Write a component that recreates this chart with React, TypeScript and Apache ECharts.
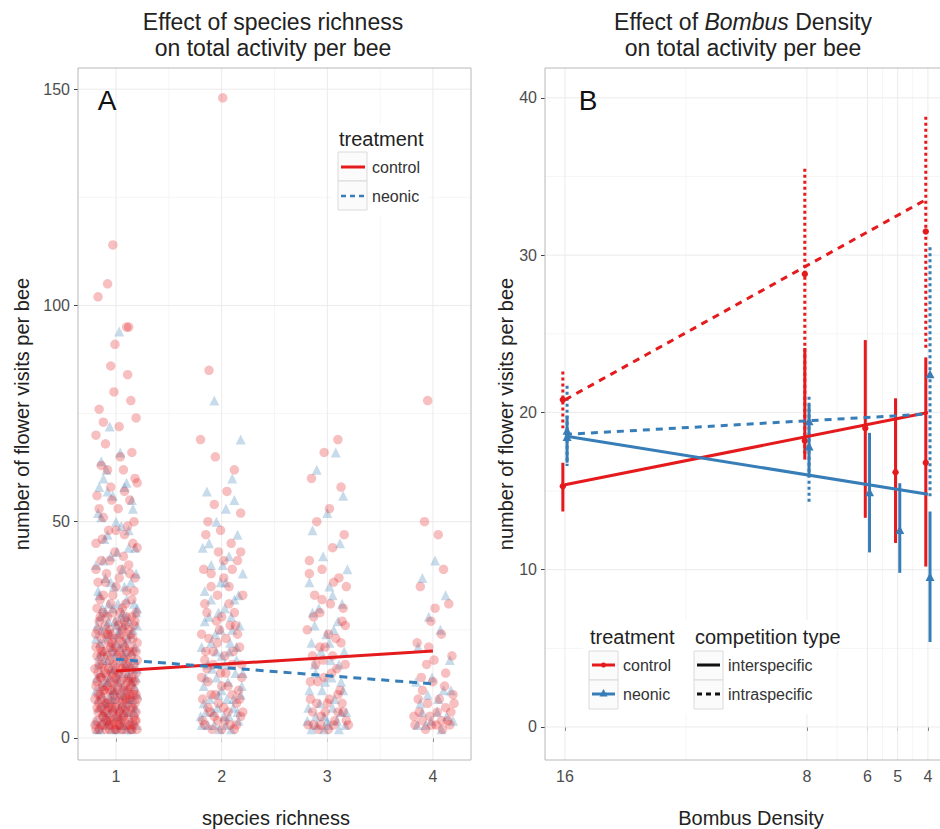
import { useEffect, useRef } from "react";
import * as echarts from "echarts";

// ---------- Panel A: observations (jittered species richness, flower visits per bee) ----------
const controlRich1: number[][] = [
  [0.97, 114], [0.92, 105], [0.83, 102], [1.1, 95], [1.12, 95], [0.99, 91], [1.11, 84], [0.98, 80],
  [0.84, 76], [1.19, 74], [0.81, 70], [1.03, 72], [0.9, 68], [1.15, 66], [0.86, 63], [1.07, 62],
  [1.18, 60], [0.95, 58], [0.82, 56], [1.13, 55], [1.02, 53], [0.88, 51], [1.17, 50], [0.93, 48],
  [1.08, 47], [0.81, 45], [1.2, 44], [0.99, 43], [0.86, 41], [1.12, 40], [1.05, 39], [0.91, 38],
  [1.18, 37], [0.83, 36], [1.0, 35], [1.1, 34], [0.88, 33], [1.15, 32], [0.95, 31], [0.82, 30],
  [1.06, 30], [1.19, 29],
  [0.85, 32], [0.97, 33], [1.09, 31], [1.17, 34], [0.9, 36], [1.03, 37], [1.13, 38], [0.81, 39],
  [0.94, 41], [1.07, 42], [1.16, 45], [0.87, 46], [1.0, 48], [1.11, 49], [0.84, 53], [0.96, 55],
  [1.08, 57], [1.2, 59], [0.92, 62], [1.04, 65], [0.88, 73], [1.14, 78], [0.95, 86],
  [0.81, 2], [0.86, 3], [0.9, 2], [0.95, 4], [0.99, 2], [1.03, 3], [1.08, 2], [1.12, 5], [1.16, 3], [1.2, 2],
  [0.83, 6], [0.88, 5], [0.93, 7], [0.97, 6], [1.01, 5], [1.06, 8], [1.1, 6], [1.14, 7], [1.18, 4], [0.8, 9],
  [0.85, 10], [0.92, 9], [0.96, 11], [1.0, 8], [1.04, 10], [1.09, 12], [1.13, 9], [1.17, 11], [0.82, 13], [0.87, 12],
  [0.91, 14], [0.98, 13], [1.02, 15], [1.07, 14], [1.11, 13], [1.15, 16], [1.19, 15], [0.84, 17], [0.89, 16], [0.94, 18],
  [1.0, 17], [1.05, 19], [1.12, 18], [1.16, 20], [0.81, 21], [0.86, 19], [0.93, 22], [0.97, 20], [1.03, 23], [1.08, 21],
  [1.14, 24], [1.2, 22], [0.83, 25], [0.9, 26], [0.95, 24], [1.01, 27], [1.06, 25], [1.1, 28], [1.17, 26], [0.85, 28],
  [0.88, 3], [0.94, 2], [1.05, 4], [1.15, 2], [0.82, 4], [0.99, 7], [1.07, 5], [1.13, 3], [0.91, 6], [1.18, 8],
  [0.84, 8], [1.02, 11], [0.96, 15], [1.09, 17], [0.87, 20], [1.16, 13], [0.92, 24], [1.04, 6], [1.19, 10], [0.8, 16],
  [0.86, 7], [0.93, 4], [1.01, 3], [1.11, 9], [0.98, 10], [1.06, 16], [0.89, 11], [1.14, 12], [0.95, 21], [1.1, 23],
  [0.8, 3], [0.84, 2], [0.87, 5], [0.91, 4], [0.94, 3], [0.97, 5], [1.0, 2], [1.02, 4], [1.05, 2], [1.08, 4],
  [1.11, 3], [1.14, 2], [1.17, 5], [1.19, 4], [0.82, 7], [0.86, 9], [0.89, 6], [0.92, 8], [0.96, 7], [0.99, 9],
  [1.03, 6], [1.06, 9], [1.09, 7], [1.13, 10], [1.16, 7], [1.2, 9], [0.81, 12], [0.85, 14], [0.88, 11], [0.92, 12],
  [0.95, 13], [0.98, 15], [1.01, 12], [1.04, 13], [1.08, 11], [1.11, 11], [1.15, 14], [1.18, 13], [0.83, 15], [0.87, 17],
  [0.9, 15], [0.93, 16], [0.97, 17], [1.0, 14], [1.04, 16], [1.07, 18], [1.1, 16], [1.14, 19], [1.17, 17], [1.2, 18],
  [0.82, 19], [0.85, 21], [0.89, 20], [0.92, 19], [0.96, 22], [1.0, 21], [1.03, 20], [1.06, 22], [1.1, 20], [1.13, 21],
  [1.16, 23], [1.19, 20], [0.81, 24], [0.86, 23], [0.9, 24], [0.94, 25], [0.98, 23], [1.02, 26], [1.05, 24], [1.09, 26],
  [1.12, 25], [1.18, 27], [0.84, 27], [0.88, 29], [0.92, 28], [0.97, 29], [1.04, 29], [1.08, 27], [1.15, 28], [0.83, 10],
  [0.9, 8], [0.97, 3], [1.06, 7], [1.12, 14], [1.19, 6], [0.86, 14], [0.94, 11], [1.01, 19], [1.09, 9], [1.16, 10],
];
const controlRich2: number[][] = [
  [2.01, 148], [1.88, 85], [1.8, 69], [2.12, 62], [2.05, 57], [1.93, 54], [2.18, 52], [1.85, 47], [2.09, 45],
  [1.97, 43], [2.15, 41], [1.83, 39], [2.02, 37], [1.9, 35], [2.2, 33], [2.07, 31], [1.86, 29], [1.95, 27],
  [2.13, 26], [1.81, 24], [2.04, 23], [2.17, 21], [1.92, 20], [1.84, 18], [2.1, 17], [1.99, 15], [2.19, 14],
  [1.87, 13], [2.06, 12], [1.94, 10], [1.82, 9], [2.14, 8], [2.02, 7], [1.89, 6], [2.18, 5], [1.96, 4],
  [2.08, 3], [1.84, 3], [2.0, 2], [1.91, 2], [2.12, 2], [2.16, 11], [1.86, 16], [2.03, 19], [1.98, 25],
  [1.82, 4], [1.87, 7], [1.9, 10], [1.93, 5], [1.97, 8], [2.0, 12], [2.03, 4], [2.06, 6], [2.1, 10], [2.14, 3],
  [2.17, 9], [2.2, 6], [1.81, 14], [1.85, 20], [1.88, 23], [1.92, 17], [1.96, 22], [2.0, 28], [2.04, 15], [2.08, 26],
  [2.11, 20], [2.15, 24], [2.19, 17], [1.84, 31], [1.9, 38], [1.96, 33], [2.02, 41], [2.07, 35], [2.12, 29], [2.18, 43],
  [1.87, 50], [1.99, 48], [2.1, 39], [1.94, 65],
];
const controlRich3: number[][] = [
  [3.1, 69], [2.97, 66], [2.85, 60], [3.13, 58], [3.02, 53], [2.9, 50], [3.16, 47], [3.05, 44], [2.83, 41],
  [2.95, 39], [3.11, 37], [3.18, 35], [2.88, 33], [3.03, 31], [2.93, 29], [3.14, 27], [2.81, 25], [3.08, 23],
  [2.98, 21], [2.86, 19], [3.17, 17], [3.04, 15], [2.91, 13], [3.12, 11], [2.84, 9], [3.0, 8], [3.15, 6],
  [2.94, 5], [3.07, 4], [2.87, 3], [3.2, 3], [3.01, 2], [2.92, 2], [3.1, 10], [2.96, 18],
  [2.82, 3], [2.86, 6], [2.9, 8], [2.94, 3], [2.98, 6], [3.02, 9], [3.06, 3], [3.1, 6], [3.14, 8], [3.18, 4],
  [2.84, 13], [2.89, 17], [2.93, 21], [2.97, 14], [3.01, 24], [3.05, 19], [3.09, 16], [3.13, 22], [3.17, 26],
  [2.87, 28], [2.95, 32], [3.06, 36], [3.15, 30], [2.83, 38],
];
const controlRich4: number[][] = [
  [3.95, 78], [3.92, 50], [4.05, 47], [4.1, 39], [3.88, 35], [4.15, 31], [4.02, 30], [3.98, 27], [4.08, 24],
  [3.85, 22], [4.18, 19], [3.94, 17], [4.12, 15], [4.0, 13], [3.9, 11], [4.06, 9], [4.2, 8], [3.87, 6],
  [3.97, 5], [4.14, 4], [4.03, 3], [3.83, 3], [4.09, 2], [3.93, 2], [4.17, 6],
  [3.82, 5], [3.86, 9], [3.9, 4], [3.95, 8], [3.99, 3], [4.04, 6], [4.08, 4], [4.12, 7], [4.16, 3], [4.19, 10],
  [3.89, 14], [4.01, 18], [4.11, 12], [3.96, 21],
];

const neonicRich1: number[][] = [
  [1.03, 94], [0.94, 72], [0.86, 64], [0.88, 60], [1.08, 58], [0.92, 57], [1.15, 55], [0.83, 52], [1.0, 50],
  [1.12, 48], [0.89, 46], [1.18, 44], [0.95, 42], [0.81, 40], [1.06, 39], [0.9, 37], [1.14, 36], [0.98, 35],
  [0.84, 33], [1.1, 32], [0.93, 31], [1.2, 30], [1.02, 31], [0.87, 30],
  [0.83, 34], [0.95, 36], [1.08, 35], [1.19, 38], [0.88, 41], [1.01, 43], [1.12, 44], [0.92, 47], [1.05, 49],
  [0.86, 51], [1.16, 53], [0.97, 56], [1.1, 59], [0.91, 62], [1.04, 66], [0.84, 58],
  [0.82, 2], [0.87, 4], [0.91, 3], [0.96, 2], [1.0, 5], [1.05, 3], [1.1, 2], [1.14, 4], [1.19, 3], [0.84, 7],
  [0.89, 8], [0.94, 6], [0.98, 9], [1.03, 7], [1.07, 10], [1.12, 8], [1.17, 6], [0.81, 11], [0.86, 12], [0.92, 13],
  [0.97, 11], [1.01, 14], [1.06, 12], [1.11, 15], [1.15, 13], [1.2, 16], [0.83, 17], [0.88, 18], [0.95, 16], [0.99, 19],
  [1.04, 18], [1.09, 20], [1.13, 17], [1.18, 21], [0.85, 22], [0.9, 23], [0.96, 21], [1.02, 24], [1.08, 22], [1.16, 25],
  [0.82, 26], [0.93, 27], [1.0, 26], [1.05, 28], [1.12, 27], [1.19, 29], [0.9, 5], [1.08, 6], [0.95, 10], [1.16, 9],
  [0.81, 4], [0.85, 2], [0.88, 6], [0.93, 4], [0.97, 7], [1.01, 2], [1.04, 5], [1.07, 3], [1.11, 6], [1.15, 2],
  [1.18, 7], [0.83, 9], [0.87, 10], [0.91, 8], [0.95, 9], [0.99, 11], [1.03, 10], [1.06, 8], [1.1, 11], [1.13, 9],
  [1.17, 12], [1.2, 10], [0.82, 14], [0.86, 15], [0.9, 13], [0.94, 14], [0.98, 16], [1.02, 13], [1.05, 15], [1.09, 17],
  [1.12, 14], [1.16, 16], [1.19, 14], [0.84, 19], [0.88, 20], [0.92, 18], [0.96, 20], [1.0, 22], [1.04, 21], [1.08, 19],
  [1.11, 23], [1.15, 20], [1.18, 18], [0.81, 23], [0.86, 25], [0.91, 26], [0.95, 24], [0.99, 27], [1.03, 25], [1.07, 26],
  [1.1, 28], [1.14, 24], [1.2, 26], [0.85, 28], [0.9, 29], [0.97, 30], [1.06, 29], [1.17, 31],
];
const neonicRich2: number[][] = [
  [1.93, 78], [2.18, 69], [2.1, 60], [1.86, 57], [2.04, 53], [1.95, 50], [2.15, 47], [1.82, 44], [2.07, 42],
  [1.9, 40], [2.2, 38], [1.99, 36], [1.84, 34], [2.12, 32], [2.03, 30], [1.88, 28], [2.17, 26], [1.94, 24],
  [2.08, 22], [1.81, 21], [2.0, 19], [2.14, 18], [1.91, 16], [1.85, 14], [2.06, 13], [2.19, 12], [1.97, 10],
  [1.83, 8], [2.11, 7], [1.92, 6], [2.02, 5], [2.16, 4], [1.87, 3], [1.98, 2], [2.09, 2], [1.8, 5], [2.13, 15],
  [1.95, 20], [2.05, 9],
  [1.81, 3], [1.85, 6], [1.89, 9], [1.93, 3], [1.96, 7], [2.0, 11], [2.04, 3], [2.07, 5], [2.11, 9], [2.15, 6],
  [2.18, 10], [1.83, 12], [1.87, 17], [1.9, 22], [1.95, 14], [1.99, 25], [2.03, 17], [2.07, 20], [2.1, 25],
  [2.14, 21], [2.2, 15], [1.84, 27], [1.9, 32], [1.97, 29], [2.04, 36], [2.09, 28], [2.16, 33], [1.88, 45],
  [2.01, 40], [2.12, 55],
];
const neonicRich3: number[][] = [
  [3.08, 66], [2.9, 62], [3.15, 56], [3.0, 52], [2.86, 48], [3.12, 45], [2.96, 42], [3.19, 39], [2.83, 36],
  [3.05, 33], [2.92, 30], [3.1, 27], [2.99, 24], [2.85, 22], [3.16, 20], [3.03, 18], [2.89, 15], [3.13, 13],
  [2.95, 11], [3.07, 9], [2.82, 7], [3.18, 6], [3.0, 4], [2.9, 3], [3.11, 2], [2.97, 2], [3.04, 14], [2.88, 26],
  [2.81, 4], [2.85, 2], [2.89, 5], [2.93, 8], [2.97, 5], [3.01, 3], [3.05, 7], [3.09, 4], [3.13, 6], [3.17, 3],
  [2.83, 11], [2.88, 17], [2.94, 20], [2.98, 13], [3.02, 22], [3.06, 25], [3.11, 17], [3.15, 11], [2.86, 29],
  [3.02, 35], [3.14, 31],
];
const neonicRich4: number[][] = [
  [4.02, 41], [3.9, 37], [4.12, 33], [3.96, 28], [4.07, 25], [3.86, 21], [4.16, 18], [3.99, 14], [4.1, 11],
  [3.88, 8], [4.04, 6], [4.19, 4], [3.93, 3], [4.08, 2], [3.84, 13],
  [3.85, 3], [3.9, 6], [3.98, 4], [4.05, 9], [4.13, 5], [4.17, 11], [3.95, 10],
];

// fitted trends, panel A
const fitControlA: number[][] = [[1, 15.5], [4, 20.1]];
const fitNeonicA: number[][] = [[1, 18.2], [4, 12.5]];

const richnessTicks = [1, 2, 3, 4];
const richnessMinor = [1.5, 2.5, 3.5];
const visitTicksA = [0, 50, 100, 150];
const visitMinorA = [25, 75, 125];

// ---------- Panel B: mean visits with intervals, by Bombus density ----------
const densityTicks = [16, 8, 6, 5, 4];
const densityMinor = [12, 7, 5.5, 4.5];
const visitTicksB = [0, 10, 20, 30, 40];
const visitMinorB = [5, 15, 25, 35];

// [density, mean, lower, upper]
const controlInter: number[][] = [
  [16, 15.3, 13.7, 16.8], [8, 18.2, 17.0, 24.1], [6, 19.0, 13.3, 24.6], [5, 16.2, 11.7, 20.9], [4, 16.8, 10.2, 23.5],
];
const neonicInter: number[][] = [
  [16, 18.4, 16.8, 19.8], [8, 17.8, 15.9, 20.5], [6, 14.9, 11.1, 18.7], [5, 12.5, 9.8, 15.5], [4, 9.5, 5.4, 13.7],
];
const controlIntra: number[][] = [
  [16, 20.8, 19.0, 22.6], [8, 28.8, 17.2, 35.5], [4, 31.5, 24.0, 38.8],
];
const neonicIntra: number[][] = [
  [16, 18.8, 16.6, 21.7], [8, 19.4, 14.2, 21.0], [4, 22.4, 14.5, 30.5],
];

// fitted trends, panel B
const fitControlInter: number[][] = [[16, 15.4], [4, 20.0]];
const fitNeonicInter: number[][] = [[16, 18.5], [4, 14.8]];
const fitControlIntra: number[][] = [[16, 20.8], [4, 33.6]];
const fitNeonicIntra: number[][] = [[16, 18.6], [4, 19.9]];

const RED = "#e41a1c";
const BLUE = "#377eb8";
const FONT = "'Liberation Sans', Arial, Helvetica, sans-serif";
const MAJOR = "#ebebeb";
const MINOR = "#f5f5f5";
const BORDER = "#b8b8b8";
const DODGE = 0.07;

const gridLayer = (gi: number, xs: number[], ys: number[], xRef: number, yRef: number, color: string) => ({
  type: "custom",
  xAxisIndex: gi,
  yAxisIndex: gi,
  silent: true,
  z: 1,
  data: [...xs.map((v) => [0, v]), ...ys.map((v) => [1, v])],
  renderItem: (params: any, api: any) => {
    const cs = params.coordSys;
    const kind = api.value(0);
    const v = api.value(1);
    if (kind === 0) {
      const px = api.coord([v, yRef])[0];
      return {
        type: "line",
        shape: { x1: px, y1: cs.y, x2: px, y2: cs.y + cs.height },
        style: { stroke: color, lineWidth: 1 },
      };
    }
    const py = api.coord([xRef, v])[1];
    return {
      type: "line",
      shape: { x1: cs.x, y1: py, x2: cs.x + cs.width, y2: py },
      style: { stroke: color, lineWidth: 1 },
    };
  },
});

const errorBars = (rows: number[][], color: string, dashed: boolean, marker: "circle" | "triangle", offset: number) => ({
  type: "custom",
  xAxisIndex: 1,
  yAxisIndex: 1,
  z: 3,
  data: rows,
  renderItem: (_params: any, api: any) => {
    const x = api.value(0) + offset;
    const top = api.coord([x, api.value(3)]);
    const bottom = api.coord([x, api.value(2)]);
    const mid = api.coord([x, api.value(1)]);
    const children: any[] = [
      {
        type: "line",
        shape: { x1: top[0], y1: top[1], x2: bottom[0], y2: bottom[1] },
        style: { stroke: color, lineWidth: 3, lineDash: dashed ? [3, 3] : null },
      },
    ];
    if (marker === "circle") {
      children.push({ type: "circle", shape: { cx: mid[0], cy: mid[1], r: 3.2 }, style: { fill: color } });
    } else {
      children.push({
        type: "polygon",
        shape: { points: [[mid[0], mid[1] - 5], [mid[0] - 4.5, mid[1] + 3.5], [mid[0] + 4.5, mid[1] + 3.5]] },
        style: { fill: color },
      });
    }
    return { type: "group", children };
  },
});

const txt = (text: string, x: number, y: number, size: number, align = "left", fill = "#222", extra: any = {}) => ({
  type: "text",
  x,
  y,
  z: 10,
  ...extra,
  style: {
    text,
    fill,
    font: `${size}px ${FONT}`,
    align,
    verticalAlign: "middle",
    textAlign: align,
    textVerticalAlign: "middle",
  },
});

const keyBox = (x: number, y: number) => ({
  type: "rect",
  z: 9,
  shape: { x, y, width: 29, height: 29 },
  style: { fill: "#fbfbfb", stroke: "#dadada", lineWidth: 1 },
});

const keyLine = (x1: number, x2: number, y: number, color: string, dash: number[] | null, width = 3) => ({
  type: "line",
  z: 10,
  shape: { x1, y1: y, x2, y2: y },
  style: { stroke: color, lineWidth: width, lineDash: dash },
});

export default function App() {
  const ref = useRef<HTMLDivElement>(null);

  useEffect(() => {
    if (!ref.current) return;
    const chart = echarts.init(ref.current, undefined, { renderer: "svg" });

    const tickStyle = { show: true, length: 4, lineStyle: { color: "#444", width: 1 } };
    const labelStyle = { color: "#4d4d4d", fontSize: 16, fontFamily: FONT };

    chart.setOption({
      animation: false,
      backgroundColor: "#fff",
      grid: [
        { left: 78, top: 68, width: 393, height: 692 },
        { left: 545, top: 68, right: 0, height: 692 },
      ],
      xAxis: [
        {
          type: "value",
          gridIndex: 0,
          min: 0.64,
          max: 4.36,
          axisLine: { show: false },
          splitLine: { show: false },
          axisTick: { ...tickStyle, customValues: richnessTicks },
          axisLabel: { ...labelStyle, margin: 8, customValues: richnessTicks },
        },
        {
          type: "value",
          gridIndex: 1,
          inverse: true,
          min: 3.6,
          max: 16.66,
          axisLine: { show: false },
          splitLine: { show: false },
          axisTick: { ...tickStyle, customValues: densityTicks },
          axisLabel: { ...labelStyle, margin: 8, customValues: densityTicks },
        },
      ],
      yAxis: [
        {
          type: "value",
          gridIndex: 0,
          min: -5.1,
          max: 154.9,
          axisLine: { show: false },
          splitLine: { show: false },
          axisTick: { ...tickStyle, customValues: visitTicksA },
          axisLabel: { ...labelStyle, margin: 8, customValues: visitTicksA },
        },
        {
          type: "value",
          gridIndex: 1,
          min: -2.1,
          max: 41.9,
          axisLine: { show: false },
          splitLine: { show: false },
          axisTick: { ...tickStyle, customValues: visitTicksB },
          axisLabel: { ...labelStyle, margin: 8, customValues: visitTicksB },
        },
      ],
      series: [
        gridLayer(0, richnessMinor, visitMinorA, 2, 50, MINOR),
        gridLayer(0, richnessTicks, visitTicksA, 2, 50, MAJOR),
        gridLayer(1, densityMinor, visitMinorB, 8, 20, MINOR),
        gridLayer(1, densityTicks, visitTicksB, 8, 20, MAJOR),
        {
          type: "scatter",
          xAxisIndex: 0,
          yAxisIndex: 0,
          z: 2,
          symbol: "triangle",
          symbolSize: 10,
          itemStyle: { color: "rgba(55,126,184,0.35)" },
          data: [...neonicRich1, ...neonicRich2, ...neonicRich3, ...neonicRich4],
        },
        {
          type: "scatter",
          xAxisIndex: 0,
          yAxisIndex: 0,
          z: 2,
          symbol: "circle",
          symbolSize: 9.5,
          itemStyle: { color: "rgba(228,26,28,0.35)" },
          data: [...controlRich1, ...controlRich2, ...controlRich3, ...controlRich4],
        },
        {
          type: "line",
          xAxisIndex: 0,
          yAxisIndex: 0,
          z: 4,
          symbol: "none",
          data: fitControlA,
          lineStyle: { color: RED, width: 3 },
        },
        {
          type: "line",
          xAxisIndex: 0,
          yAxisIndex: 0,
          z: 4,
          symbol: "none",
          data: fitNeonicA,
          lineStyle: { color: BLUE, width: 3, type: [8, 6] },
        },
        errorBars(controlInter, RED, false, "circle", DODGE),
        errorBars(controlIntra, RED, true, "circle", DODGE),
        errorBars(neonicInter, BLUE, false, "triangle", -DODGE),
        errorBars(neonicIntra, BLUE, true, "triangle", -DODGE),
        {
          type: "line",
          xAxisIndex: 1,
          yAxisIndex: 1,
          z: 4,
          symbol: "none",
          data: fitControlInter,
          lineStyle: { color: RED, width: 3 },
        },
        {
          type: "line",
          xAxisIndex: 1,
          yAxisIndex: 1,
          z: 4,
          symbol: "none",
          data: fitNeonicInter,
          lineStyle: { color: BLUE, width: 3 },
        },
        {
          type: "line",
          xAxisIndex: 1,
          yAxisIndex: 1,
          z: 4,
          symbol: "none",
          data: fitControlIntra,
          lineStyle: { color: RED, width: 3, type: [7, 6] },
        },
        {
          type: "line",
          xAxisIndex: 1,
          yAxisIndex: 1,
          z: 4,
          symbol: "none",
          data: fitNeonicIntra,
          lineStyle: { color: BLUE, width: 3, type: [7, 6] },
        },
      ],
      graphic: [
        // panel borders
        { type: "rect", z: 8, silent: true, shape: { x: 78, y: 68, width: 393, height: 692 }, style: { fill: "none", stroke: BORDER, lineWidth: 1 } },
        { type: "rect", z: 8, silent: true, shape: { x: 545, y: 68, width: 420, height: 692 }, style: { fill: "none", stroke: BORDER, lineWidth: 1 } },
        // titles
        txt("Effect of species richness", 273, 22, 23, "center"),
        txt("on total activity per bee", 273, 48, 23, "center"),
        {
          type: "text",
          x: 743,
          y: 22,
          z: 10,
          style: {
            text: "{n|Effect of }{i|Bombus}{n| Density}",
            align: "center",
            verticalAlign: "middle",
            textAlign: "center",
            textVerticalAlign: "middle",
            rich: {
              n: { fontSize: 23, fontFamily: FONT, fill: "#222", color: "#222" },
              i: { fontSize: 23, fontFamily: FONT, fontStyle: "italic", fill: "#222", color: "#222" },
            },
          },
        },
        txt("on total activity per bee", 743, 48, 23, "center"),
        // panel tags
        txt("A", 107, 100, 28, "center", "#111"),
        txt("B", 588, 100, 28, "center", "#111"),
        // axis titles
        txt("species richness", 276, 818, 20, "center"),
        txt("Bombus Density", 751, 818, 20, "center"),
        txt("number of flower visits per bee", 22, 414, 20, "center", "#222", { rotation: Math.PI / 2 }),
        txt("number of flower visits per bee", 506, 414, 20, "center", "#222", { rotation: Math.PI / 2 }),
        // legend, panel A
        { type: "rect", z: 8, shape: { x: 332, y: 124, width: 96, height: 92 }, style: { fill: "#fff" } },
        txt("treatment", 339, 139, 20),
        keyBox(338, 152),
        keyBox(338, 181),
        keyLine(341, 365, 167, RED, null),
        keyLine(341, 365, 196, BLUE, [5, 4], 2.5),
        txt("control", 372, 167, 16, "left", "#333"),
        txt("neonic", 372, 196, 16, "left", "#333"),
        // legend, panel B
        { type: "rect", z: 8, shape: { x: 583, y: 620, width: 250, height: 94 }, style: { fill: "#fff" } },
        txt("treatment", 590, 637, 20),
        txt("competition type", 695, 637, 20),
        keyBox(589, 651),
        keyBox(589, 680),
        keyBox(694, 651),
        keyBox(694, 680),
        keyLine(592, 615, 665, RED, null),
        { type: "circle", z: 10, shape: { cx: 603.5, cy: 665, r: 2.5 }, style: { fill: RED } },
        keyLine(592, 615, 694, BLUE, null),
        { type: "polygon", z: 10, shape: { points: [[603.5, 689], [599.5, 696.5], [607.5, 696.5]] }, style: { fill: BLUE } },
        keyLine(697, 720, 665, "#111", null),
        keyLine(697, 720, 694, "#111", [5, 4]),
        txt("control", 623, 665, 16, "left", "#333"),
        txt("neonic", 623, 694, 16, "left", "#333"),
        txt("interspecific", 728, 665, 16, "left", "#333"),
        txt("intraspecific", 728, 694, 16, "left", "#333"),
      ],
    });

    return () => chart.dispose();
  }, []);

  return <div ref={ref} style={{ position: "absolute", left: 0, top: 0, width: 940, height: 829 }} />;
}
